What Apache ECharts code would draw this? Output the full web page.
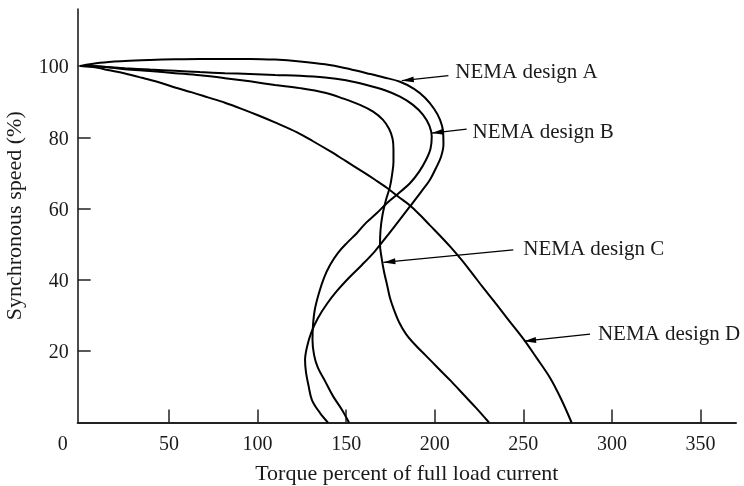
<!DOCTYPE html>
<html>
<head>
<meta charset="utf-8">
<script src="https://cdn.jsdelivr.net/npm/echarts@6/dist/echarts.min.js"></script>
<style>
html,body{margin:0;padding:0;background:#fff;}
#chart{width:744px;height:486px;}
</style>
</head>
<body>
<div id="chart"></div>
<script>
// ---- data ----
const seriesNames = ['NEMA design A', 'NEMA design B', 'NEMA design C', 'NEMA design D'];

const torqueA = [0,11.1,25.2,39.3,53.4,67.5,81.6,95.7,109.8,123.9,138.1,149.9,161.6,171.4,180.4,188.3,194.5,199.6,203.0,204.7,204.9,203.5,200.7,197.3,192.3,186.0,179.3,172.9,166.3,158.9,151.6,144.8,139.2,134.1,130.2,127.9,126.8,127.3,128.7,130.7,135.2,139.7];
const speedA  = [100,100.9,101.4,101.7,101.9,102.0,102.0,102.0,101.8,101.3,100.5,99.4,98.0,96.8,95.6,93.6,91.1,88.0,84.9,81.6,77.9,74.5,71.4,68.1,64.7,60.6,56.3,52.2,48.1,44.2,40.6,36.9,33.3,29.3,25.1,21.2,17.5,14.2,10.5,6.3,2.7,0];

const torqueB = [0,11.1,25.2,39.3,53.4,67.5,81.6,95.7,109.8,123.9,138.1,149.9,161.6,171.9,180.4,187.7,193.4,197.0,198.3,197.6,195.1,191.1,186.0,179.8,173.1,167.2,161.2,156.0,150.5,145.4,140.9,137.5,134.7,132.4,131.3,131.0,131.9,134.1,138.1,142.6,147.7,151.6];
const speedB  = [100,99.9,99.4,99.0,98.7,98.3,98.0,97.8,97.5,97.3,96.8,96.0,94.7,93.2,91.4,89.1,86.3,83.2,80.2,76.8,73.7,70.3,67.1,64.4,61.6,58.7,56.0,53.1,50.4,47.6,44.2,40.6,36.4,31.9,27.4,23.2,18.9,15.3,11.6,7.4,3.5,0];

const torqueC = [0,11.1,25.2,39.3,53.4,67.5,81.6,95.7,109.8,123.9,138.1,148.2,157.8,165.2,170.8,174.2,176.2,176.7,176.7,175.9,174.7,172.5,170.5,169.4,169.1,170.0,171.4,173.1,174.7,177.0,179.8,183.8,188.9,195.1,201.8,209.2,216.5,223.3,230.6];
const speedC  = [100,99.9,99.1,98.6,98.0,97.4,96.6,95.7,94.7,93.8,92.5,90.9,89.1,87.2,84.9,82.4,79.6,76.5,73.1,69.5,66.1,62.5,58.2,54.0,49.8,46.2,42.2,38.6,35.0,31.6,28.2,24.8,21.8,18.7,15.3,11.6,7.7,4.1,0];

const torqueD = [0,7.1,15.6,25.2,34.8,43.8,53.4,63.0,72.0,81.6,91.0,100.2,109.8,122.3,131.3,140.9,149.9,159.5,166.3,173.1,179.3,186.0,191.7,197.3,203.0,208.6,214.8,221.0,227.2,234.6,241.9,249.8,257.1,265.1,271.3,277.2];
const speedD  = [100,99.7,98.9,97.9,96.7,95.5,94.0,92.6,91.2,89.7,88.0,86.2,84.2,81.4,78.9,76.1,73.3,70.3,68.1,65.8,63.4,60.9,58.2,55.3,52.4,49.4,45.8,41.9,37.9,33.3,28.6,23.6,18.4,12.5,6.6,0];

// annotation arrows (data coordinates): tail near the label, tip on the curve
const arrowTail = [[207.7,97.3],[218.0,82.3],[244.3,48.4],[287.6,24.8]];
const arrowTip  = [[181.4,95.9],[198.3,81.2],[171.0,44.9],[250.4,22.8]];

const xTickLabels = [0,50,100,150,200,250,300,350];
const xTicks = [50,100,150,200,250,300,350];
const yTickLabels = [20,40,60,80,100];

const xTitle = 'Torque percent of full load current';
const yTitle = 'Synchronous speed (%)';

// ---- chart ----
const FONT = '"Liberation Serif", "Times New Roman", serif';
const TXT = '#1a1a1a';
const torques = [torqueA, torqueB, torqueC, torqueD];
const speeds = [speedA, speedB, speedC, speedD];
const labelPads = [[0,0,5,0],[9,0,0,0],[0,0,0,0],[2,0,0,0]];
const labelDist = [7,6,10,8];

const series = seriesNames.map((name, i) => ({
  type: 'line',
  name: name,
  data: torques[i].map((t, k) => [t, speeds[i][k]]),
  smooth: 0.35,
  showSymbol: false,
  symbol: 'none',
  clip: false,
  lineStyle: { color: '#000', width: 2 },
  emphasis: { disabled: true },
  markLine: {
    silent: true,
    animation: false,
    symbol: ['none', 'triangle'],
    lineStyle: { color: '#000', width: 1.3, type: 'solid' },
    label: {
      show: true,
      position: 'start',
      formatter: '{n|' + name + '}',
      distance: labelDist[i],
      rich: { n: { fontFamily: FONT, fontSize: 21, color: TXT, padding: labelPads[i] } }
    },
    emphasis: { disabled: true },
    data: [[
      { coord: arrowTail[i], symbol: 'none' },
      { coord: arrowTip[i], symbol: 'triangle', symbolSize: [6, 12], symbolOffset: [0, 6] }
    ]]
  }
}));

const chart = echarts.init(document.getElementById('chart'), null, { renderer: 'canvas' });
chart.setOption({
  animation: false,
  backgroundColor: '#fff',
  grid: { left: 77.7, right: 8, top: 9, bottom: 63.5, containLabel: false, outerBoundsMode: 'none' },
  xAxis: {
    type: 'value',
    min: -1.5,
    max: 370,
    name: xTitle,
    nameLocation: 'middle',
    nameGap: 41,
    nameTextStyle: { fontFamily: FONT, fontSize: 22, color: TXT },
    axisLine: { show: true, onZero: false, lineStyle: { color: '#222', width: 2 } },
    axisTick: { show: true, inside: true, length: 13, customValues: xTicks, lineStyle: { color: '#222', width: 1.5 } },
    axisLabel: {
      customValues: xTickLabels,
      fontFamily: FONT, fontSize: 20, color: TXT, margin: 12,
      formatter: v => (v === 0 ? '{o|0}' : String(v)),
      rich: { o: { fontFamily: FONT, fontSize: 20, color: TXT, padding: [0, 35, 0, 0] } }
    },
    splitLine: { show: false }
  },
  yAxis: {
    type: 'value',
    min: 0,
    max: 116,
    name: yTitle,
    nameLocation: 'middle',
    nameGap: 51,
    nameTextStyle: { fontFamily: FONT, fontSize: 22, color: TXT },
    axisLine: { show: true, onZero: false, lineStyle: { color: '#111', width: 1.5 } },
    axisTick: { show: true, inside: true, length: 13, customValues: yTickLabels, lineStyle: { color: '#222', width: 1.5 } },
    axisLabel: {
      customValues: yTickLabels, margin: 9,
      formatter: v => '{v|' + v + '}',
      rich: { v: { fontFamily: FONT, fontSize: 20, color: TXT, padding: [4, 0, 0, 0] } }
    },
    splitLine: { show: false }
  },
  tooltip: { show: false },
  series: series
});
</script>
</body>
</html>
